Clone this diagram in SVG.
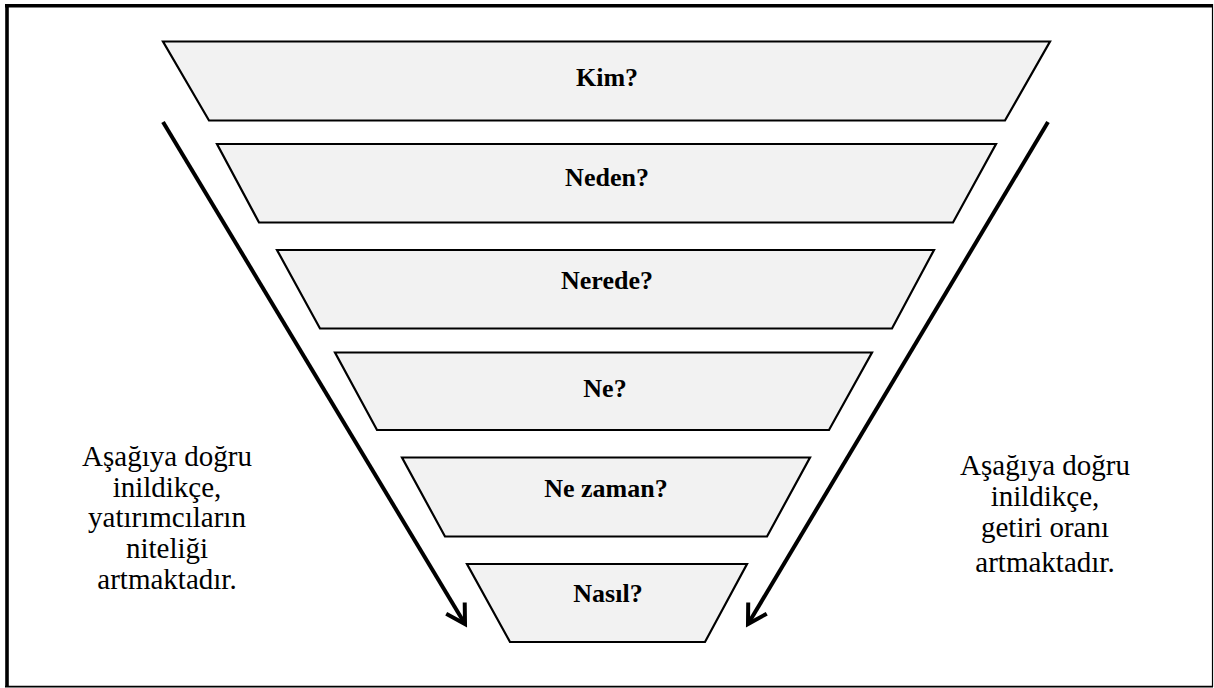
<svg xmlns="http://www.w3.org/2000/svg" width="1214" height="688" viewBox="0 0 1214 688">
<style>
.stage{fill:#f2f2f2;stroke:#000;stroke-width:2.2;stroke-linejoin:miter}
.lbl{font-family:'Liberation Serif','DejaVu Serif','Times New Roman',serif;font-weight:bold;font-size:26px;fill:#000;text-anchor:middle}
.side{font-family:'Liberation Serif','DejaVu Serif','Times New Roman',serif;font-size:29px;fill:#000;text-anchor:middle}
.arrow{stroke:#000;stroke-width:4;fill:none;marker-end:url(#chev)}
</style>
<defs>
<marker id="chev" markerUnits="userSpaceOnUse" viewBox="-26 -16 30 32" markerWidth="30" markerHeight="32" refX="0" refY="0" orient="auto" overflow="visible">
<path d="M -18.5 -10.8 L 0 0 L -18.5 10.8" fill="none" stroke="#000" stroke-width="4" stroke-linejoin="miter"/>
</marker>
</defs>
<rect x="0" y="0" width="1214" height="688" fill="#fff"/>
<g id="frame">
<path d="M 5 5.7 L 1213 5.7" stroke="#000" stroke-width="3.4"/>
<path d="M 7 4 L 7 687" stroke="#000" stroke-width="3.6"/>
<path d="M 1212.5 4 L 1212.5 687" stroke="#000" stroke-width="1.2"/>
<path d="M 5 686.6 L 1213 686.6" stroke="#000" stroke-width="1.6"/>
</g>
<g id="connectors">
<path class="arrow" d="M 163 122 L 465 624"/>
<path class="arrow" d="M 1048 122 L 748 624"/>
</g>
<g id="kim">
<polygon class="stage" points="163,41.5 1050,41.5 1005,120.5 209,120.5"/>
<text class="lbl" x="607" y="86">Kim?</text>
</g>
<g id="neden">
<polygon class="stage" points="217,144 996,144 953,222.5 259,222.5"/>
<text class="lbl" x="607" y="186">Neden?</text>
</g>
<g id="nerede">
<polygon class="stage" points="277,250 934,250 892,328.5 320,328.5"/>
<text class="lbl" x="607" y="289">Nerede?</text>
</g>
<g id="ne">
<polygon class="stage" points="335,352.5 872,352.5 829,430 377,430"/>
<text class="lbl" x="605" y="397">Ne?</text>
</g>
<g id="nezaman">
<polygon class="stage" points="402,457.5 810,457.5 767,536.5 445,536.5"/>
<text class="lbl" x="606" y="497">Ne zaman?</text>
</g>
<g id="nasil">
<polygon class="stage" points="467,564 747,564 705,642 510,642"/>
<text class="lbl" x="608" y="602">Nasıl?</text>
</g>
<g id="left-note">
<text class="side" x="167" y="466">Aşağıya doğru</text>
<text class="side" x="167" y="497">inildikçe,</text>
<text class="side" x="167" y="527">yatırımcıların</text>
<text class="side" x="167" y="558">niteliği</text>
<text class="side" x="167" y="589">artmaktadır.</text>
</g>
<g id="right-note">
<text class="side" x="1045" y="475">Aşağıya doğru</text>
<text class="side" x="1045" y="506">inildikçe,</text>
<text class="side" x="1045" y="537">getiri oranı</text>
<text class="side" x="1045" y="572">artmaktadır.</text>
</g>
</svg>
